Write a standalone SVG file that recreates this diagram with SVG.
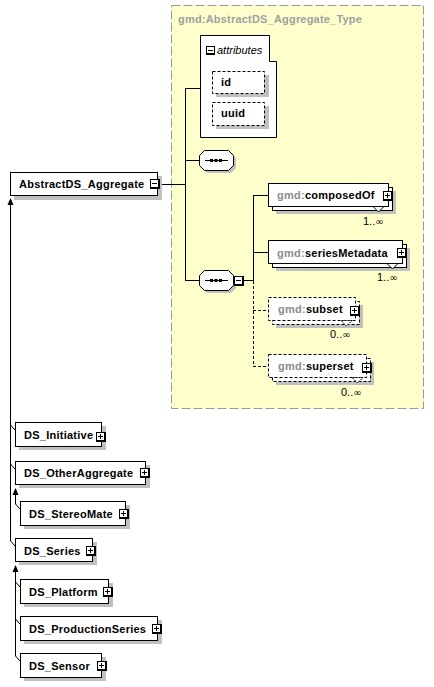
<svg xmlns="http://www.w3.org/2000/svg" xmlns:xlink="http://www.w3.org/1999/xlink" width="434" height="687" viewBox="0 0 434 687">
<style>
.bx{fill:#fff;stroke:#000;stroke-width:1}
.dbx{fill:#fff;stroke:#000;stroke-width:1;stroke-dasharray:3,2}
.sh{fill:#c0c0c0}
.ln{fill:none;stroke:#000;stroke-width:1}
.dl{fill:none;stroke:#000;stroke-width:1;stroke-dasharray:3,2}
.ah{fill:#000}
.t{font-family:"Liberation Sans",Arial,sans-serif;font-size:11px;font-weight:bold;fill:#000;letter-spacing:0.25px}
.g{fill:#8c8c8c}
.m{font-family:"Liberation Sans",Arial,sans-serif;font-size:11px;fill:#000}
.inf{font-family:"DejaVu Sans",sans-serif;font-size:10px}
.ti{font-family:"Liberation Sans",Arial,sans-serif;font-size:11px;font-weight:bold;fill:#a0a0a0;letter-spacing:0.2px}
.it{font-family:"Liberation Sans",Arial,sans-serif;font-size:11px;font-style:italic;fill:#000}
</style>
<defs>
<g id="plus"><rect width="10" height="10" fill="#000"/><rect x="1" y="1" width="7" height="7" fill="#fff"/><path d="M2,4.5H7M4.5,2V7" stroke="#000" stroke-width="1"/></g>
<g id="minus"><rect width="10" height="10" fill="#000"/><rect x="1" y="1" width="7" height="7" fill="#fff"/><path d="M2,4.5H7" stroke="#000" stroke-width="1"/></g>
<polygon id="oct" points="5,0 29,0 34,5 34,15 29,20 5,20 0,15 0,5"/>
</defs>

<rect id="type-bg" x="171.5" y="5.5" width="252" height="403" fill="#ffffcc" stroke="#999" stroke-dasharray="9,3"/>
<text class="ti" x="178" y="23">gmd:AbstractDS_Aggregate_Type</text>

<g id="connectors">
<path class="ln" d="M160,184.5H185.5"/>
<path class="ln" d="M185.5,88V281"/>
<path class="ln" d="M185,88.5H200M185,160.5H199M185,280.5H199"/>
<path class="ln" d="M244,280.5H253.5"/>
<path class="ln" d="M253.5,195V281"/>
<path class="dl" d="M253.5,281V367"/>
<path class="ln" d="M253,195.5H268M253,252.5H268"/>
<path class="dl" d="M253,310.5H268M253,366.5H268"/>
<path class="ln" d="M10.5,541V203"/>
<polygon class="ah" points="10.5,198 13.5,205 7.5,205"/>
<path class="ln" d="M10.5,425L15,430M10.5,464L15,469M10.5,541L15,546"/>
<path class="ln" d="M15.5,504V493"/>
<polygon class="ah" points="15.5,488 18.5,495 12.5,495"/>
<path class="ln" d="M15.5,504L20,509"/>
<path class="ln" d="M15.5,656V570"/>
<polygon class="ah" points="15.5,565 18.5,572 12.5,572"/>
<path class="ln" d="M15.5,582L20,587M15.5,619L20,624M15.5,656L20,661"/>
</g>

<g id="AbstractDS_Aggregate">
<rect class="sh" x="14" y="176" width="148" height="24"/>
<rect class="bx" x="10.5" y="172.5" width="147" height="23"/>
<text class="t" x="19" y="188">AbstractDS_Aggregate</text>
<use xlink:href="#minus" x="150" y="179"/>
</g>

<g id="attributes">
<path class="bx" d="M200.5,35.5H269.5V61.5H276.5V137.5H200.5Z"/>
<rect x="206" y="46" width="9" height="9" fill="#000"/><rect x="207" y="47" width="7" height="6" fill="#fff"/><path d="M208,50.5H213" stroke="#000"/>
<text class="it" x="217" y="54">attributes</text>
</g>
<g id="attr-id">
<rect class="sh" x="216" y="75" width="53" height="22"/>
<rect class="dbx" x="212.5" y="71.5" width="52" height="22"/>
<text class="t" x="221" y="86">id</text>
</g>
<g id="attr-uuid">
<rect class="sh" x="216" y="106" width="53" height="23"/>
<rect class="dbx" x="212.5" y="102.5" width="52" height="23"/>
<text class="t" x="221" y="117">uuid</text>
</g>

<g id="sequence1">
<use xlink:href="#oct" x="202" y="153" fill="#c0c0c0"/>
<use xlink:href="#oct" x="199.5" y="150.5" fill="#fff" stroke="#000"/>
<path d="M205,160.5H228" stroke="#000"/>
<rect x="210" y="159" width="3" height="3"/><rect x="214.5" y="159" width="3" height="3"/><rect x="219" y="159" width="3" height="3"/>
</g>

<g id="sequence2">
<use xlink:href="#oct" x="202" y="273" fill="#c0c0c0"/>
<use xlink:href="#oct" x="199.5" y="270.5" fill="#fff" stroke="#000"/>
<path d="M205,280.5H228" stroke="#000"/>
<rect x="210" y="279" width="3" height="3"/><rect x="214.5" y="279" width="3" height="3"/><rect x="219" y="279" width="3" height="3"/>
<use xlink:href="#minus" x="234" y="276"/>
</g>

<g id="composedOf">
<rect class="sh" x="276" y="191" width="120" height="23"/>
<rect class="bx" x="272.5" y="187.5" width="120" height="23"/>
<rect class="bx" x="268.5" y="183.5" width="120" height="23"/>
<polygon points="373,206.5 378.5,212 384,206.5" fill="#fff" stroke="#000"/>
<text class="t" x="277" y="199"><tspan class="g">gmd:</tspan>composedOf</text>
<use xlink:href="#plus" x="383" y="191"/>
<text class="m" x="363" y="225">1..<tspan class="inf">∞</tspan></text>
</g>

<g id="seriesMetadata">
<rect class="sh" x="276" y="248" width="134" height="23"/>
<rect class="bx" x="272.5" y="244.5" width="134" height="23"/>
<rect class="bx" x="268.5" y="240.5" width="134" height="23"/>
<polygon points="387,263.5 392.5,269 398,263.5" fill="#fff" stroke="#000"/>
<text class="t" x="277" y="257"><tspan class="g">gmd:</tspan>seriesMetadata</text>
<use xlink:href="#plus" x="397" y="248"/>
<text class="m" x="377" y="281">1..<tspan class="inf">∞</tspan></text>
</g>

<g id="subset">
<rect class="sh" x="276" y="305" width="87" height="23"/>
<rect class="dbx" x="272.5" y="301.5" width="87" height="23"/>
<rect class="dbx" x="268.5" y="297.5" width="87" height="23"/>
<polygon points="341,320.5 346.5,326 352,320.5" fill="#fff" stroke="#000" stroke-dasharray="2,1"/>
<text class="t" x="278" y="313"><tspan class="g">gmd:</tspan>subset</text>
<use xlink:href="#plus" x="350" y="306"/>
<text class="m" x="330" y="338">0..<tspan class="inf">∞</tspan></text>
</g>

<g id="superset">
<rect class="sh" x="276" y="362" width="98" height="23"/>
<rect class="dbx" x="272.5" y="358.5" width="98" height="23"/>
<rect class="dbx" x="268.5" y="354.5" width="98" height="23"/>
<polygon points="352,377.5 357.5,383 363,377.5" fill="#fff" stroke="#000" stroke-dasharray="2,1"/>
<text class="t" x="278" y="370"><tspan class="g">gmd:</tspan>superset</text>
<use xlink:href="#plus" x="362" y="363"/>
<text class="m" x="341" y="396">0..<tspan class="inf">∞</tspan></text>
</g>

<g id="DS_Initiative">
<rect class="sh" x="19" y="426" width="87" height="24"/>
<rect class="bx" x="15.5" y="422.5" width="86" height="24"/>
<text class="t" x="24" y="439">DS_Initiative</text>
<use xlink:href="#plus" x="96" y="432"/>
</g>

<g id="DS_OtherAggregate">
<rect class="sh" x="19" y="465" width="131" height="23"/>
<rect class="bx" x="15.5" y="461.5" width="130" height="23"/>
<text class="t" x="24" y="477">DS_OtherAggregate</text>
<use xlink:href="#plus" x="140" y="468"/>
</g>

<g id="DS_StereoMate">
<rect class="sh" x="24" y="505" width="106" height="24"/>
<rect class="bx" x="20.5" y="501.5" width="105" height="24"/>
<text class="t" x="29" y="518">DS_StereoMate</text>
<use xlink:href="#plus" x="119" y="509"/>
</g>

<g id="DS_Series">
<rect class="sh" x="19" y="542" width="78" height="23"/>
<rect class="bx" x="15.5" y="538.5" width="77" height="23"/>
<text class="t" x="24" y="555">DS_Series</text>
<use xlink:href="#plus" x="86" y="546"/>
</g>

<g id="DS_Platform">
<rect class="sh" x="24" y="583" width="89" height="24"/>
<rect class="bx" x="20.5" y="579.5" width="88" height="24"/>
<text class="t" x="29" y="596">DS_Platform</text>
<use xlink:href="#plus" x="103" y="587"/>
</g>

<g id="DS_ProductionSeries">
<rect class="sh" x="24" y="620" width="138" height="24"/>
<rect class="bx" x="20.5" y="616.5" width="137" height="24"/>
<text class="t" x="29" y="633">DS_ProductionSeries</text>
<use xlink:href="#plus" x="152" y="624"/>
</g>

<g id="DS_Sensor">
<rect class="sh" x="24" y="657" width="82" height="24"/>
<rect class="bx" x="20.5" y="653.5" width="81" height="24"/>
<text class="t" x="29" y="670">DS_Sensor</text>
<use xlink:href="#plus" x="97" y="661"/>
</g>
</svg>
